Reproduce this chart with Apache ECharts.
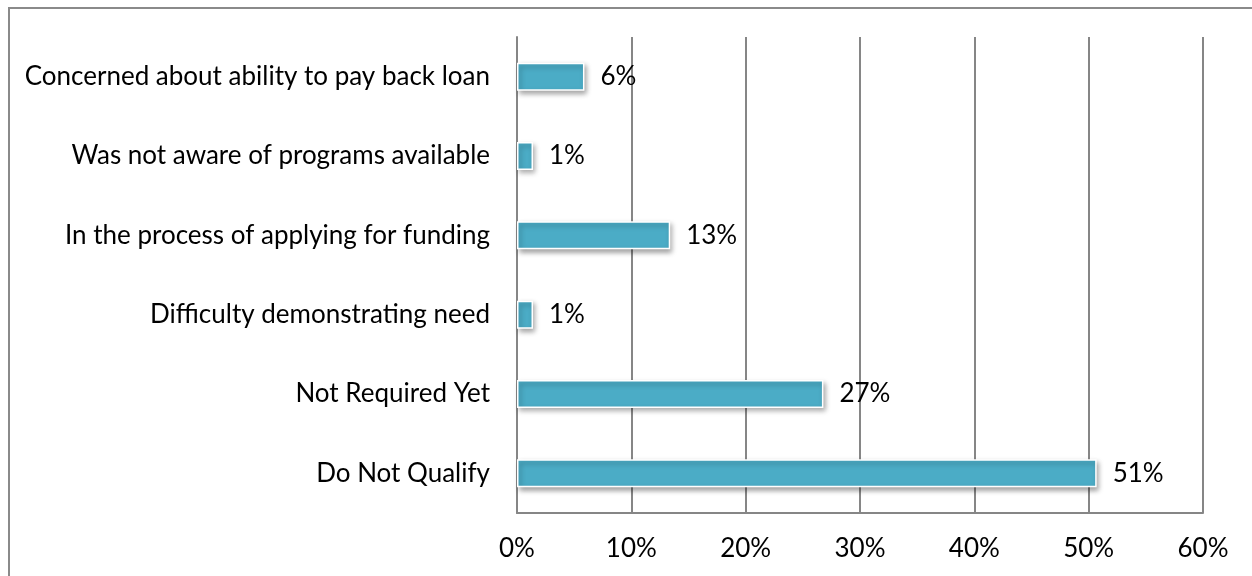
<!DOCTYPE html>
<html>
<head>
<meta charset="utf-8">
<script src="https://cdn.jsdelivr.net/npm/echarts@6/dist/echarts.min.js"></script>
<style>
  html, body { margin: 0; padding: 0; background: #fff; }
  #chart { width: 1252px; height: 576px; }
</style>
</head>
<body>
<div id="chart"></div>
<script>
// categories listed bottom to top
var categories = [
  'Do Not Qualify',
  'Not Required Yet',
  'Difficulty demonstrating need',
  'In the process of applying for funding',
  'Was not aware of programs available',
  'Concerned about ability to pay back loan'
]
var values = [50.7, 26.8, 1.4, 13.4, 1.4, 5.9]
var tickLabels = ['0%', '10%', '20%', '30%', '40%', '50%', '60%']

var FONT = 'Lato'
var FS = 26
var chart = echarts.init(document.getElementById('chart'))

var option = {
  backgroundColor: '#fff',
  animation: false,
  graphic: [{
    type: 'rect',
    shape: { x: 9, y: 8, width: 1400, height: 700 },
    style: { fill: 'none', stroke: '#8a8a8a', lineWidth: 2 },
    silent: true
  }],
  grid: { left: 517, right: 49, top: 37, bottom: 63 },
  xAxis: {
    type: 'value',
    min: 0,
    max: 60,
    interval: 10,
    axisLine: { show: true, lineStyle: { color: '#868686', width: 2 } },
    axisTick: { show: false },
    splitLine: { show: true, lineStyle: { color: '#868686', width: 2 } },
    axisLabel: {
      margin: 23,
      color: '#000',
      fontFamily: FONT,
      fontSize: FS,
      formatter: function (v) { return tickLabels[v / 10] }
    }
  },
  yAxis: {
    type: 'category',
    data: categories,
    axisLine: { show: true, lineStyle: { color: '#868686', width: 2 } },
    axisTick: { show: false },
    axisLabel: {
      margin: 27,
      color: '#000',
      fontFamily: FONT,
      fontSize: FS
    }
  },
  series: [{
    type: 'bar',
    data: values,
    barWidth: 28,
    itemStyle: {
      color: '#4BACC6',
      borderColor: '#fff',
      borderWidth: 1.5,
      shadowColor: 'rgba(0,0,0,0.35)',
      shadowBlur: 5,
      shadowOffsetX: 2,
      shadowOffsetY: 3
    },
    label: {
      show: true,
      position: 'right',
      distance: 16,
      color: '#000',
      fontFamily: FONT,
      fontSize: FS,
      formatter: function (p) { return Math.round(p.value) + '%' }
    }
  }]
}

chart.setOption(option)
</script>
</body>
</html>
